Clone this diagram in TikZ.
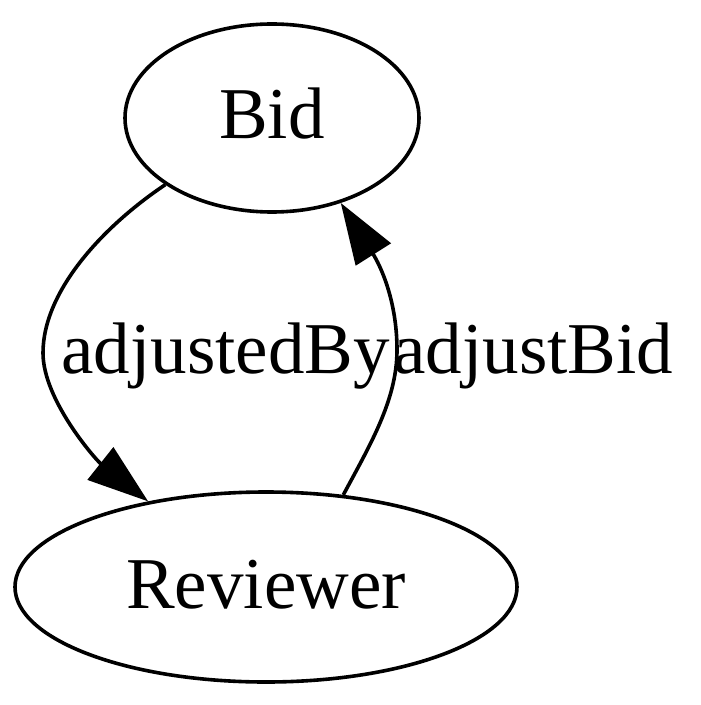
\documentclass[tikz,border=0pt]{standalone}
\usepackage{fontspec}
\setmainfont{Liberation Serif}
\usepackage{tikz}
\usetikzlibrary{arrows.meta,
                positioning,
                shapes.geometric}

\begin{document}
\begin{tikzpicture}[x=0.5pt,y=-0.5pt,
    state/.style={draw,ellipse,line width=1.8pt,inner sep=0pt,
                  text height=21pt,text depth=0pt,
                  font=\fontsize{36.5}{44}\selectfont},
    lbl/.style={inner sep=0pt,anchor=base west,
                font=\fontsize{36.5}{44}\selectfont},
    edge/.style={line width=1.8pt,-{Triangle[length=30.5pt,width=20.5pt]}}]
\useasboundingbox (0,0) rectangle (700,705);

\node[state,minimum width=147pt,minimum height=94pt] (bid) at (272,118) {Bid};
\node[state,minimum width=251pt,minimum height=95pt] (rev) at (266,587) {Reviewer};

\node[lbl] (adjby) at (61,373) {adjustedBy};
\node[lbl] (adjbid) at (393,373) {adjustBid};

\draw[edge] (bid.212) .. controls (105,225) and (43,290) .. (43,353)
            .. controls (43,400) and (96,460) .. (rev.144);
\draw[edge] (rev.50) .. controls (370,445) and (397,400) .. (397,350)
            .. controls (397,300) and (380,265) .. (bid.309);
\end{tikzpicture}
\end{document}
